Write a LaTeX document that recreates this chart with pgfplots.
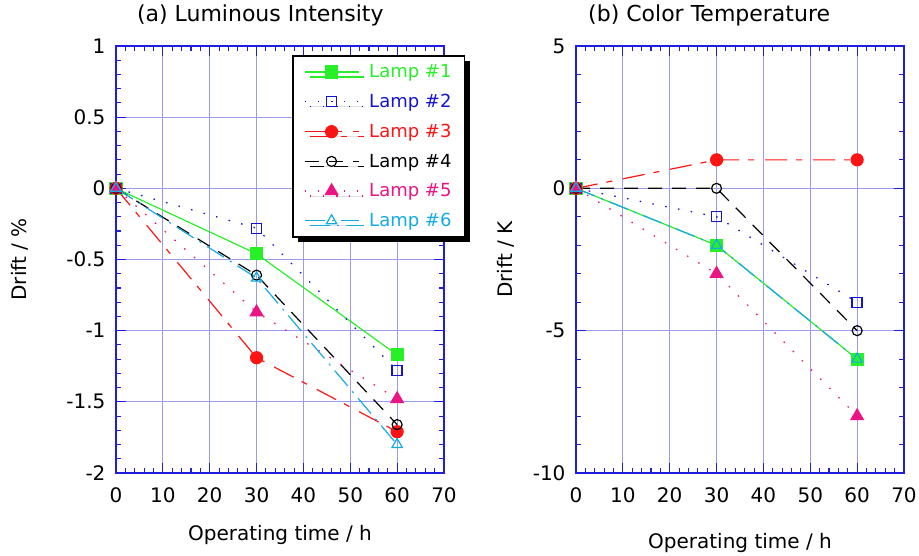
\documentclass[border=0pt]{standalone}
\usepackage{pgfplots}
\pgfplotsset{compat=1.18}
\usepackage{fontspec}
\setmainfont{DejaVu Sans}
\usetikzlibrary{shadows}
\definecolor{cA}{RGB}{40,240,40}
\definecolor{cB}{RGB}{20,20,210}
\definecolor{cC}{RGB}{255,20,20}
\definecolor{cD}{RGB}{0,0,0}
\definecolor{cE}{RGB}{235,20,130}
\definecolor{cF}{RGB}{20,170,230}
\definecolor{axc}{RGB}{30,30,220}
\definecolor{gridc}{RGB}{155,155,240}
\pgfplotsset{
 panel/.style={
  scale only axis, width=328pt, height=427pt,
  xmin=0, xmax=70, xtick={0,10,...,70}, minor x tick num=4, minor y tick num=4,
  tick pos=both, tick align=inside,
  axis line style={draw=axc, line width=1.3pt},
  every tick/.style={draw=axc, line width=1.1pt},
  major tick length=10pt, minor tick length=5pt,
  grid=major, major grid style={draw=gridc, line width=0.9pt},
  ticklabel style={font=\fontsize{20}{23}\selectfont, text=black},
  xticklabel style={yshift=-11pt},
  yticklabel style={xshift=-7pt},
  label style={font=\fontsize{20}{23}\selectfont},
  title style={font=\fontsize{22}{25}\selectfont, anchor=base, yshift=18pt},
  xlabel={Operating time / h},
  legend image code/.code={\draw[mark repeat=2,mark phase=2] plot coordinates {(0pt,0pt) (27pt,0pt) (54pt,0pt)};},
 },
 l1/.style={cA, line width=1.2pt, solid, mark=square*, mark size=6pt, mark options={solid, fill=cA}},
 l2/.style={cB, line width=1.3pt, dash pattern=on 1.5pt off 11.5pt, mark=square, mark size=5pt, mark options={solid}},
 l3/.style={cC, line width=1.2pt, dash pattern=on 22pt off 9pt on 6pt off 11pt, mark=*, mark size=6pt, mark options={solid, fill=cC}},
 l4/.style={cD, line width=1.2pt, dash pattern=on 14pt off 10pt, mark=o, mark size=5pt, mark options={solid}},
 l5/.style={cE, line width=1.3pt, dash pattern=on 1.5pt off 11.5pt, mark=triangle*, mark size=7pt, mark options={solid, fill=cE}},
 l6/.style={cF, line width=1.2pt, dash pattern=on 20pt off 7pt on 2pt off 7pt, mark=triangle, mark size=6pt, mark options={solid}},
}
\begin{document}
\begin{tikzpicture}
\useasboundingbox (-116pt,-83pt) rectangle (803pt,473pt);
\begin{axis}[panel,
  ymin=-2, ymax=1, ytick={-2,-1.5,...,1},
  yticklabels={-2,-1.5,-1,-0.5,0,0.5,1},
  xticklabels={0,10,20,30,40,50,60,70},
  title={(a) Luminous Intensity}, title style={at={(0.44,1)}},
  ylabel={Drift / \%},
  ylabel style={at={(axis description cs:-0.293,0.5)}, anchor=center},
  xlabel style={at={(0.5,0)}, anchor=base, yshift=-68pt},
  legend style={at={(0.537,0.979)}, anchor=north west, draw=black, line width=1.6pt, fill=white,
    drop shadow={shadow xshift=5pt, shadow yshift=-5pt, fill=black, opacity=1},
    font=\fontsize{18}{21}\selectfont, row sep=11pt, inner xsep=11pt, inner ysep=7pt,
    /tikz/every odd column/.append style={column sep=8pt}},
  legend cell align=left,
]
\addplot[l1] coordinates {(0,0) (30,-0.46) (60,-1.17)};
\addlegendentry{\textcolor{cA}{Lamp \#1}}
\addplot[l2] coordinates {(0,0) (30,-0.28) (60,-1.28)};
\addlegendentry{\textcolor{cB}{Lamp \#2}}
\addplot[l3] coordinates {(0,0) (30,-1.19) (60,-1.71)};
\addlegendentry{\textcolor{cC}{Lamp \#3}}
\addplot[l4] coordinates {(0,0) (30,-0.61) (60,-1.66)};
\addlegendentry{\textcolor{cD}{Lamp \#4}}
\addplot[l5] coordinates {(0,0) (30,-0.87) (60,-1.48)};
\addlegendentry{\textcolor{cE}{Lamp \#5}}
\addplot[l6] coordinates {(0,0) (30,-0.63) (60,-1.80)};
\addlegendentry{\textcolor{cF}{Lamp \#6}}
\end{axis}
\begin{axis}[panel, at={(460pt,0pt)},
  ymin=-10, ymax=5, ytick={-10,-5,0,5},
  yticklabels={-10,-5,0,5},
  xticklabels={0,10,20,30,40,50,60,70},
  title={(b) Color Temperature}, title style={at={(0.406,1)}},
  ylabel={Drift / K},
  ylabel style={at={(axis description cs:-0.215,0.5)}, anchor=center},
  xlabel style={at={(0.5,0)}, anchor=base, yshift=-76pt},
]
\addplot[l1] coordinates {(0,0) (30,-2) (60,-6)};
\addplot[l2] coordinates {(0,0) (30,-1) (60,-4)};
\addplot[l3] coordinates {(0,0) (30,1) (60,1)};
\addplot[l4] coordinates {(0,0) (30,0) (60,-5)};
\addplot[l5] coordinates {(0,0) (30,-3) (60,-8)};
\addplot[l6] coordinates {(0,0) (30,-2) (60,-6)};
\end{axis}
\end{tikzpicture}
\end{document}
